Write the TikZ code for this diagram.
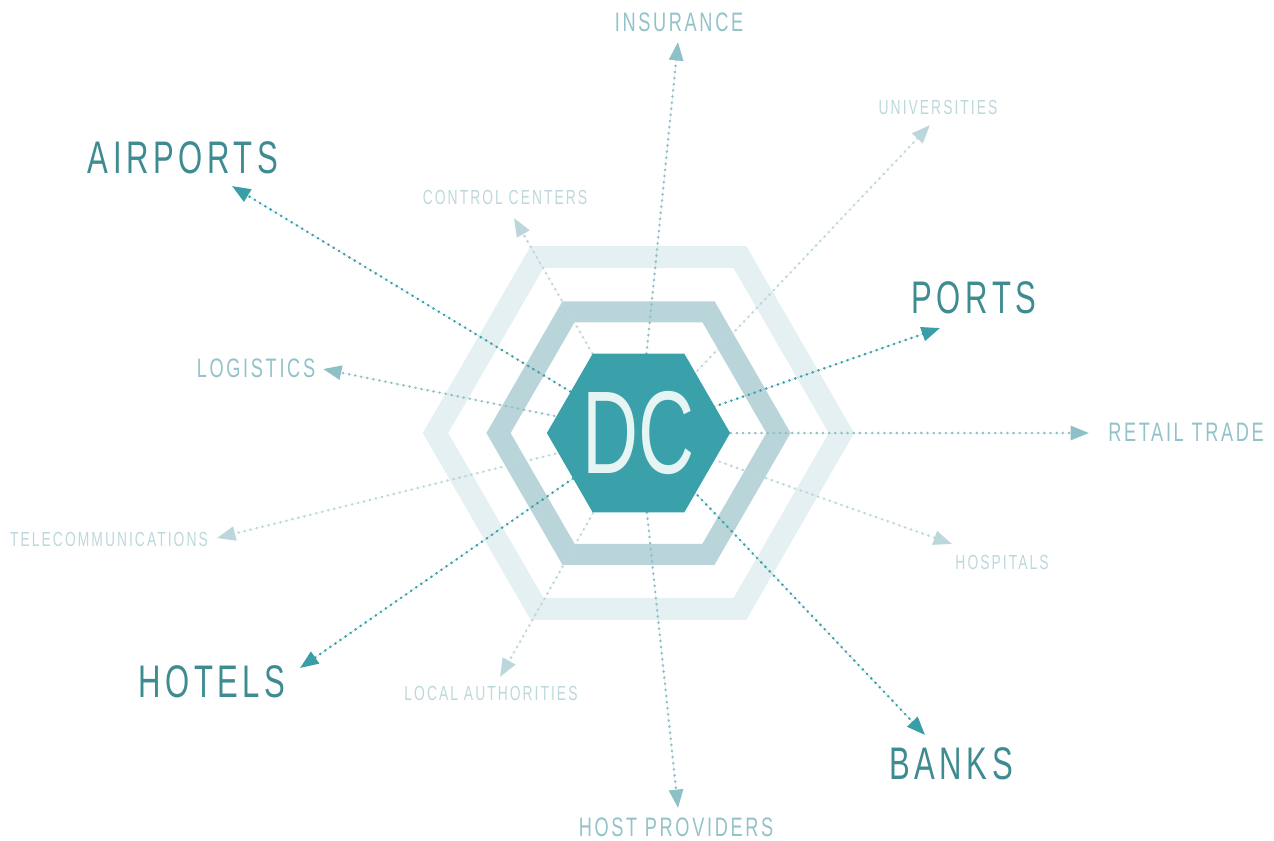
\documentclass[tikz,border=0pt]{standalone}
\usepackage{fontspec}
\usetikzlibrary{arrows.meta, shapes.geometric}

\newfontfamily\condfont[FakeStretch=0.68, LetterSpace=10]{Liberation Sans}
\newfontfamily\dcfont[FakeStretch=0.66]{Liberation Sans}

\definecolor{hexfill}{HTML}{3AA1AA}
\definecolor{dctext}{HTML}{E6F4F4}
\definecolor{bandmid}{HTML}{B9D5D9}
\definecolor{bandouter}{HTML}{E4F0F2}
\definecolor{arrowdark}{HTML}{3A9EA7}
\definecolor{arrowmid}{HTML}{8DC0C7}
\definecolor{arrowlight}{HTML}{BBD7DB}
\definecolor{labeldark}{HTML}{3E8B92}
\definecolor{labelmid}{HTML}{93C2C8}
\definecolor{labellight}{HTML}{BDD8DC}

\begin{document}
\begin{tikzpicture}[
    x=0.02cm, y=-0.02cm,
    >={Triangle[length=10.5pt, width=8pt]},
    link/.style     = {->, line width=1.6pt, line cap=round, dash pattern=on 0pt off 3.5pt},
    strong/.style   = {link, draw=arrowdark, fill=arrowdark},
    medium/.style   = {link, draw=arrowmid, fill=arrowmid},
    weak/.style     = {link, draw=arrowlight, fill=arrowlight},
    biglabel/.style = {inner sep=0pt, text=labeldark, font=\condfont\fontsize{26}{31}\selectfont},
    midlabel/.style = {inner sep=0pt, text=labelmid, font=\condfont\fontsize{15.2}{18}\selectfont},
    smalllabel/.style = {inner sep=0pt, text=labellight, font=\condfont\fontsize{11.6}{14}\selectfont},
    dchex/.style    = {regular polygon, regular polygon sides=6, minimum size=3.52cm,
                       inner sep=0pt, fill=hexfill, text=dctext, font=\dcfont\fontsize{67}{76}\selectfont},
]

\useasboundingbox (0,0) rectangle (1274,840);

\coordinate (ctr) at (638.5,433);

% hexagon bands
\draw[bandouter, line width=0.44cm]
  ([shift={(0:203)}]ctr) -- ([shift={(60:203)}]ctr) -- ([shift={(120:203)}]ctr)
  -- ([shift={(180:203)}]ctr) -- ([shift={(240:203)}]ctr) -- ([shift={(300:203)}]ctr) -- cycle;
\draw[bandmid, line width=0.42cm]
  ([shift={(0:140)}]ctr) -- ([shift={(60:140)}]ctr) -- ([shift={(120:140)}]ctr)
  -- ([shift={(180:140)}]ctr) -- ([shift={(240:140)}]ctr) -- ([shift={(300:140)}]ctr) -- cycle;

% arrow tips
\coordinate (tAirports)  at (232,186);
\coordinate (tPorts)     at (940,328);
\coordinate (tHotels)    at (300,668);
\coordinate (tBanks)     at (925,735);
\coordinate (tInsurance) at (678,42);
\coordinate (tRetail)    at (1089,433);
\coordinate (tHost)      at (678,808);
\coordinate (tLogistics) at (323,369);
\coordinate (tUniv)      at (930,125);
\coordinate (tControl)   at (514,218);
\coordinate (tHospitals) at (952,544);
\coordinate (tLocal)     at (500,677);
\coordinate (tTelecom)   at (217,538);

% connectors
\draw[strong] (ctr) -- (tAirports);
\draw[strong] (ctr) -- (tPorts);
\draw[strong] (ctr) -- (tHotels);
\draw[strong] (ctr) -- (tBanks);
\draw[medium] (ctr) -- (tInsurance);
\draw[medium] (ctr) -- (tRetail);
\draw[medium] (ctr) -- (tHost);
\draw[medium] (ctr) -- (tLogistics);
\draw[weak] (ctr) -- (tUniv);
\draw[weak] (ctr) -- (tControl);
\draw[weak] (ctr) -- (tHospitals);
\draw[weak] (ctr) -- (tLocal);
\draw[weak] (ctr) -- (tTelecom);

% center
\node[dchex] (dc) at (ctr) {DC};

% labels
\node[biglabel] (airports) at (183,158) {AIRPORTS};
\node[biglabel] (ports)    at (974,298) {PORTS};
\node[biglabel] (hotels)   at (212,682) {HOTELS};
\node[biglabel] (banks)    at (951,764) {BANKS};
\node[midlabel] (insurance) at (679,22)  {INSURANCE};
\node[midlabel] (retail)    at (1186,432) {RETAIL TRADE};
\node[midlabel] (host)      at (676,827) {HOST PROVIDERS};
\node[midlabel] (logistics) at (256,368) {LOGISTICS};
\node[smalllabel] (univ)      at (938,107) {UNIVERSITIES};
\node[smalllabel] (control)   at (505,197) {CONTROL CENTERS};
\node[smalllabel] (hospitals) at (1002,562) {HOSPITALS};
\node[smalllabel] (local)     at (491,693) {LOCAL AUTHORITIES};
\node[smalllabel] (telecom)   at (109,539) {TELECOMMUNICATIONS};

\end{tikzpicture}
\end{document}
